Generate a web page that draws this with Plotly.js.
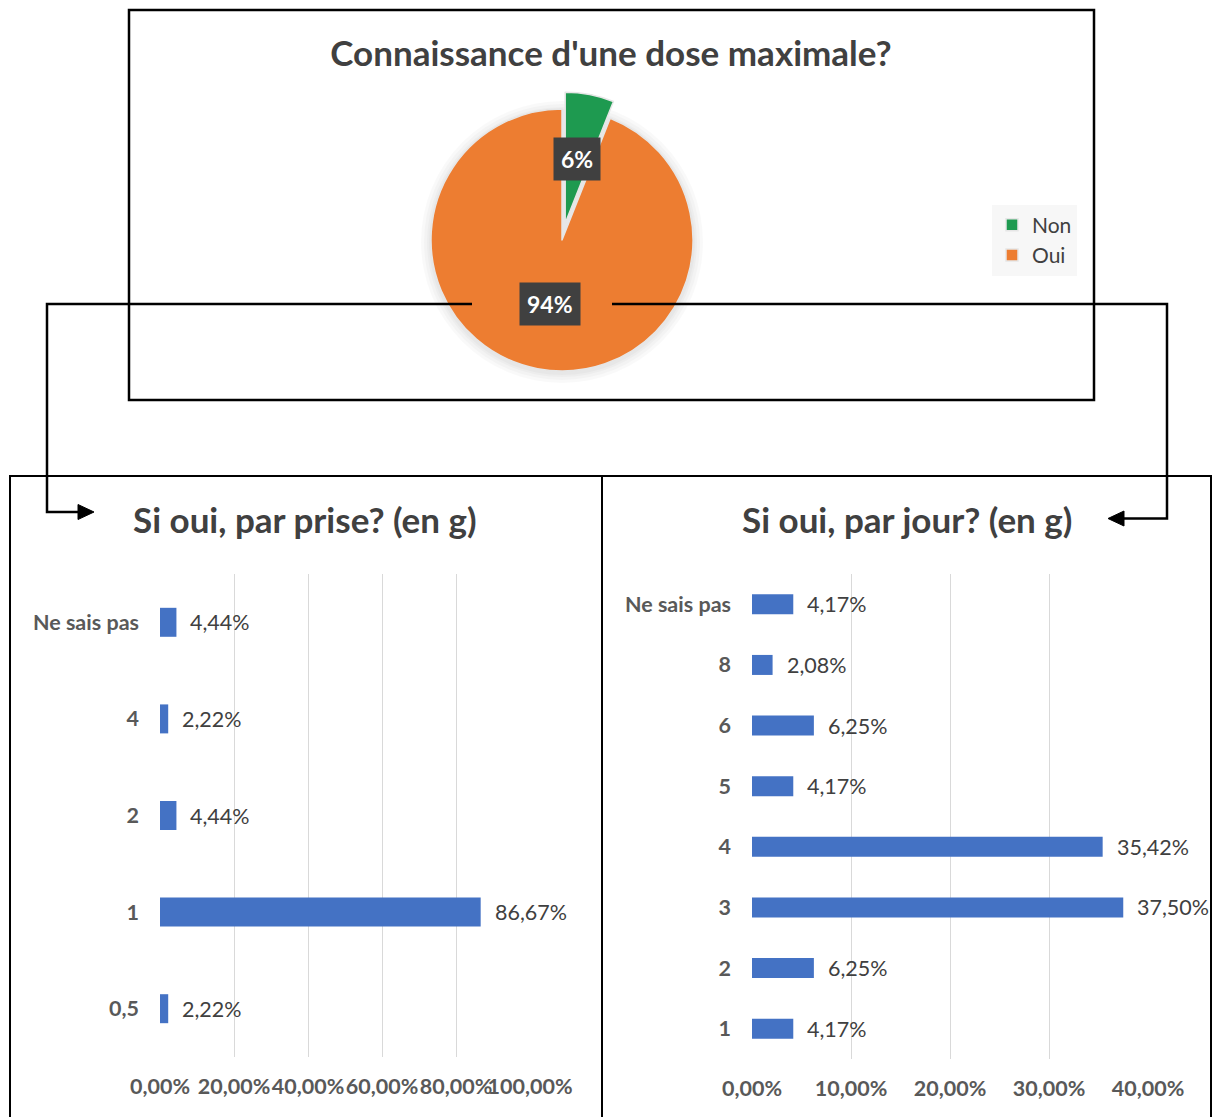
<!DOCTYPE html>
<html>
<head>
<meta charset="utf-8">
<script src="https://cdn.plot.ly/plotly-3.0.1.min.js"></script>
<style>html,body{margin:0;padding:0;background:#fff}#chart{width:1212px;height:1117px}</style>
</head>
<body>
<div id="chart"></div>
<script>
// ---- data ----
const pieLabels = ['Non', 'Oui'];
const pieValues = [6, 94];
const pieColors = ['#1E9A50', '#ED7D31'];

const priseCats = ['0,5', '1', '2', '4', 'Ne sais pas'];
const priseVals = [2.22, 86.67, 4.44, 2.22, 4.44];

const jourCats = ['1', '2', '3', '4', '5', '6', '8', 'Ne sais pas'];
const jourVals = [4.17, 6.25, 37.50, 35.42, 4.17, 6.25, 2.08, 4.17];

const priseTicks = [0, 20, 40, 60, 80, 100];
const jourTicks = [0, 10, 20, 30, 40];

// ---- helpers ----
const W = 1212, H = 1117;
const X = p => p / W;
const Y = p => 1 - p / H;
const FONT = 'Lato, "Open Sans", sans-serif';
const fmt = v => v.toFixed(2).replace('.', ',') + '%';

// pie geometry (domain in paper coords)
const pieCx = 562, pieCy = 240, pieR = 131;
const pull = [0.13, 0];
const maxPull = Math.max(...pull);
const half = pieR * (1 + maxPull);
const pieDomain = {x: [X(pieCx - half), X(pieCx + half)], y: [Y(pieCy + half), Y(pieCy - half)]};

const total = pieValues.reduce((a, b) => a + b, 0);
let cum = 0;
const pieAnn = pieValues.map((v, i) => {
  const mid = (cum + v / 2) / total * 2 * Math.PI; cum += v;
  const rr = pieR * (0.5 + pull[i]);
  return {
    xref: 'paper', yref: 'paper', xanchor: 'center', yanchor: 'middle',
    x: X(pieCx + rr * Math.sin(mid)), y: Y(pieCy - rr * Math.cos(mid)),
    text: '<b>' + Math.round(v / total * 100) + '%</b>', showarrow: false,
    font: {family: FONT, size: 23, color: '#ffffff'},
    bgcolor: '#404040', borderpad: 7
  };
});

const barAnn = (cats, vals, xa, ya) => cats.map((c, i) => ({
  xref: xa, yref: ya, x: vals[i], y: i, text: fmt(vals[i]),
  showarrow: false, xanchor: 'left', yanchor: 'middle', xshift: 12,
  font: {family: FONT, size: 21.5, color: '#404040'}
}));

const traces = [
  {
    type: 'pie', labels: pieLabels, values: pieValues, sort: false,
    direction: 'clockwise', rotation: 0, pull: pull,
    marker: {colors: pieColors, line: {color: '#e6e6e6', width: 1.5}},
    textinfo: 'none', hoverinfo: 'label+percent', domain: pieDomain
  },
  {
    type: 'bar', orientation: 'h', y: priseCats, x: priseVals, width: 0.3,
    marker: {color: '#4472C4'}, xaxis: 'x', yaxis: 'y', showlegend: false
  },
  {
    type: 'bar', orientation: 'h', y: jourCats, x: jourVals, width: 0.33,
    marker: {color: '#4472C4'}, xaxis: 'x2', yaxis: 'y2', showlegend: false
  }
];

const axX = (dom, rng, ticks, anchor) => ({
  domain: dom, range: rng, tickmode: 'array', tickvals: ticks, ticktext: ticks.map(fmt),
  tickangle: 0, showgrid: true, gridcolor: '#d9d9d9', gridwidth: 1, zeroline: false, showline: false,
  ticks: '', ticklabelstandoff: 14, anchor: anchor, fixedrange: true,
  tickfont: {family: FONT, size: 21.5, color: '#595959', weight: 'bold'}
});
const axY = (dom, anchor) => ({
  domain: dom, type: 'category', showgrid: false, zeroline: false, showline: false,
  ticks: '', ticklabelstandoff: 20, anchor: anchor, fixedrange: true,
  tickfont: {family: FONT, size: 21.5, color: '#595959', weight: 'bold'}
});

const box = (x0, y0, x1, y1, w) => ({
  type: 'rect', xref: 'paper', yref: 'paper', x0: X(x0), x1: X(x1), y0: Y(y1), y1: Y(y0),
  line: {color: '#000', width: w}, fillcolor: 'rgba(0,0,0,0)'
});
const path = (pts, close, fill) => ({
  type: 'path', xref: 'paper', yref: 'paper',
  path: pts.map((p, i) => (i ? 'L' : 'M') + X(p[0]) + ',' + Y(p[1])).join(' ') + (close ? ' Z' : ''),
  line: {color: '#000', width: close ? 1 : 2.5}, fillcolor: fill || 'rgba(0,0,0,0)'
});
const shadow = [10, 7, 4, 2].map(d => ({
  type: 'circle', xref: 'paper', yref: 'paper', layer: 'below',
  x0: X(pieCx - pieR - d), x1: X(pieCx + pieR + d), y0: Y(pieCy + pieR + d + 2), y1: Y(pieCy - pieR - d + 2),
  line: {width: 0}, fillcolor: 'rgba(0,0,0,0.022)'
}));

const titleAnn = (txt, x, y) => ({
  xref: 'paper', yref: 'paper', x: X(x), y: Y(y), xanchor: 'center', yanchor: 'middle',
  text: '<b>' + txt + '</b>', showarrow: false,
  font: {family: FONT, size: 35, color: '#404040'}
});

const layout = {
  width: W, height: H, margin: {l: 0, r: 0, t: 0, b: 0},
  paper_bgcolor: '#ffffff', plot_bgcolor: 'rgba(0,0,0,0)', separators: ', ',
  font: {family: FONT, color: '#404040'},
  title: {text: "<b>Connaissance d'une dose maximale?</b>", x: X(611), xanchor: 'center',
          y: Y(54), yanchor: 'middle', font: {family: FONT, size: 35, color: '#404040'}},
  showlegend: true,
  legend: {x: X(992), y: Y(240), xanchor: 'left', yanchor: 'middle', bgcolor: '#f7f7f7',
           font: {family: FONT, size: 21, color: '#404040'}},
  xaxis: axX([X(160), X(530)], [0, 100], priseTicks, 'y'),
  yaxis: axY([Y(1057), Y(574)], 'x'),
  xaxis2: axX([X(752), X(1148)], [0, 40], jourTicks, 'y2'),
  yaxis2: axY([Y(1059), Y(574)], 'x2'),
  shapes: [
    ...shadow,
    box(129, 10, 1094, 400, 2.5),
    box(10, 476, 602, 1130, 2),
    box(602, 476, 1211, 1130, 2),
    path([[472, 304], [47, 304], [47, 512], [80, 512]]),
    path([[78, 504.5], [94, 512], [78, 519.5]], true, '#000'),
    path([[612, 304], [1167, 304], [1167, 518.5], [1122, 518.5]]),
    path([[1124, 511], [1108, 518.5], [1124, 526]], true, '#000')
  ],
  annotations: [
    ...pieAnn,
    titleAnn('Si oui, par prise? (en g)', 305, 519),
    titleAnn('Si oui, par jour? (en g)', 907, 519),
    ...barAnn(priseCats, priseVals, 'x', 'y'),
    ...barAnn(jourCats, jourVals, 'x2', 'y2')
  ]
};

Plotly.newPlot('chart', traces, layout, {displayModeBar: false, staticPlot: true});
</script>
</body>
</html>
